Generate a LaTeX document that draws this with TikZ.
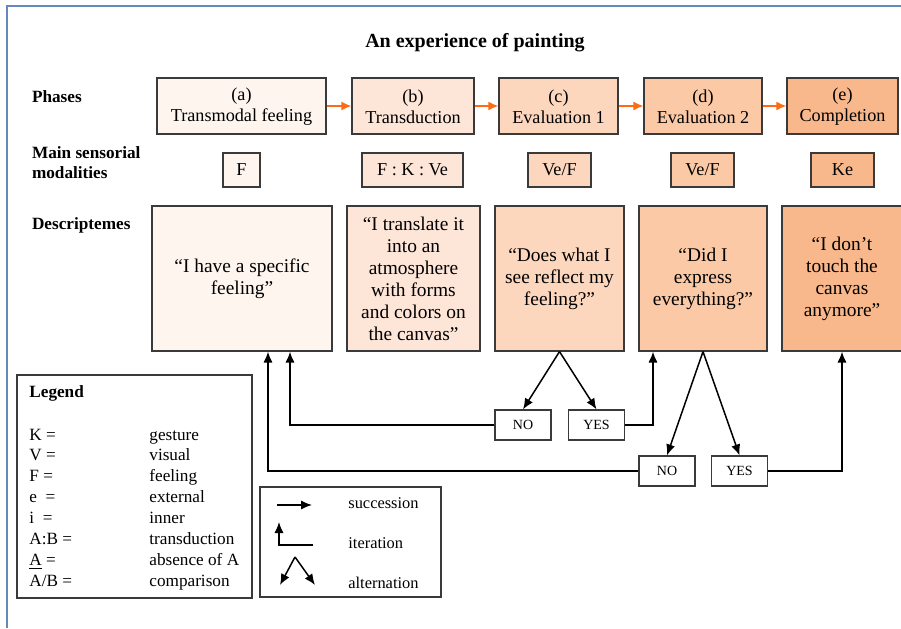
\documentclass[tikz,border=0pt]{standalone}
\usepackage{fontspec}
\setmainfont{Liberation Serif}
\usetikzlibrary{calc,arrows.meta}
\definecolor{pha}{HTML}{FEF5EF}
\definecolor{phb}{HTML}{FDE5D8}
\definecolor{phc}{HTML}{FCD7BE}
\definecolor{phd}{HTML}{FBC9A6}
\definecolor{phe}{HTML}{F9B88B}
\definecolor{succorange}{HTML}{FF6A14}
\definecolor{boxgray}{HTML}{3A3A3A}
\definecolor{frameblue}{HTML}{6489BC}
\tikzset{>={Latex[length=5.5pt,width=4.6pt]}}
\tikzset{
  box/.style={draw=boxgray,line width=.6pt,inner sep=0pt,align=center},
  phase/.style={box,minimum height=28pt,font=\fontsize{9.1}{10.5}\selectfont},
  modal/.style={box,minimum height=17pt,font=\fontsize{9.1}{10.5}\selectfont},
  descr/.style={box,minimum height=72.5pt,font=\fontsize{9.7}{11}\selectfont},
  answer/.style={box,fill=white,minimum width=28pt,minimum height=15pt,font=\fontsize{7}{8}\selectfont},
  rowlabel/.style={anchor=west,align=left,font=\bfseries\fontsize{8.6}{10}\selectfont},
  legtext/.style={anchor=base west,inner sep=0pt,font=\fontsize{8.6}{10}\selectfont},
  symtext/.style={anchor=west,inner sep=0pt,font=\fontsize{8.2}{10}\selectfont},
  arr/.style={->,line width=.75pt},
  succ/.style={-{Latex[length=5pt,width=4.5pt]},draw=succorange,fill=succorange,line width=.8pt}
}

\begin{document}
\begin{tikzpicture}[x=.5pt,y=-.5pt]
\useasboundingbox (0,0) rectangle (901,628);
\draw[frameblue,line width=1pt] (7,628) -- (7,6) -- (901,6);

\node[font=\bfseries\fontsize{10}{12}\selectfont] (title) at (475,43) {An experience of painting};

% row labels
\node[rowlabel] (lphase) at (25,97) {Phases};
\node[rowlabel] (lmodal) at (25,163) {Main sensorial\\modalities};
\node[rowlabel] (ldescr) at (25,225) {Descriptemes};

% phases
\foreach \x/\w/\name/\col/\txt in {241.5/84.5/pa/pha/{(a)\\Transmodal feeling},413/61/pb/phb/{(b)\\Transduction},558.5/59.5/pc/phc/{(c)\\Evaluation 1},703/59/pd/phd/{(d)\\Evaluation 2},842.5/55.5/pe/phe/{(e)\\Completion}}
  \node[phase,fill=\col,minimum width=\w pt] (\name) at (\x,106) {\strut\txt};
\foreach \a/\b in {pa/pb,pb/pc,pc/pd,pd/pe}
  \draw[succ] (\a) -- (\b);

% modalities
\foreach \x/\w/\name/\col/\txt in {241.5/18.5/ma/pha/F,412.5/50.5/mb/phb/{F : K : Ve},559.5/31.5/mc/phc/{Ve/F},702.5/31.5/md/phd/{Ve/F},842.5/31.5/me/phe/Ke}
  \node[modal,fill=\col,minimum width=\w pt] (\name) at (\x,170) {\txt};

% descriptemes
\foreach \x/\w/\name/\col/\txt in {242/90/da/pha/{“I have a specific\\feeling”},413.5/66.5/db/phb/{“I translate it\\into an\\atmosphere\\with forms\\and colors on\\the canvas”},559.5/64.5/dc/phc/{“Does what I\\see reflect my\\feeling?”},703/64/dd/phd/{“Did I\\express\\everything?”},842/60/de/phe/{“I don’t\\touch the\\canvas\\anymore”}}
  \node[descr,fill=\col,minimum width=\w pt] (\name) at (\x,278.5) {\txt};

% answers
\foreach \x/\y/\name/\txt in {523/425/nc/NO,596.5/425/yc/YES,667/471/nd/NO,739.5/471/yd/YES}
  \node[answer] (\name) at (\x,\y) {\txt};

\draw[arr] (dc.south) -- (nc.north);
\draw[arr] (dc.south) -- (yc.north);
\draw[arr] (dd.south) -- (nd.north);
\draw[arr] (dd.south) -- (yd.north);
\draw[arr] (nc.west) -| ($(da.south)+(48,0)$);
\draw[arr] (nd.west) -| ($(da.south)+(26,0)$);
\draw[arr] (yc.east) -| ($(dd.south)+(-50,0)$);
\draw[arr] (yd.east) -| (de.south);

% legend
\node[box,minimum width=117.5pt,minimum height=111.5pt] (leg) at (134.5,486.5) {};
\node[anchor=west,inner sep=0pt,font=\bfseries\fontsize{8.6}{10}\selectfont] (legtitle) at (29,393) {Legend};
\foreach \k/\lhs/\rhs in {0/{K =}/gesture,1/{V =}/visual,2/{F =}/feeling,3/{e~~=}/external,4/{i~~=}/inner,5/{A:B =}/transduction,6/{\underline{A} =}/{absence of A},7/{A/B =}/comparison}{
  \node[legtext] (lhs\k) at (29,440+20.9*\k) {\lhs};
  \node[legtext] (rhs\k) at (149,440+20.9*\k) {\rhs};
}

% symbols
\node[box,minimum width=90.5pt,minimum height=55pt] (sym) at (350.5,542) {};
\coordinate (s1) at (277,505);
\coordinate (s2) at (312,505);
\draw[arr] (s1) -- (s2);
\node[symtext] (tsucc) at (348,503) {succession};
\coordinate (i1) at (313,545);
\coordinate (i2) at (279,545);
\coordinate (i3) at (279,522);
\draw[arr] (i1) -- (i2) -- (i3);
\node[symtext] (titer) at (348,543) {iteration};
\coordinate (a0) at (295,557);
\coordinate (a1) at (280,585);
\coordinate (a2) at (315,585);
\draw[arr] (a0) -- (a1);
\draw[arr] (a0) -- (a2);
\node[symtext] (talt) at (348,583) {alternation};
\end{tikzpicture}
\end{document}
